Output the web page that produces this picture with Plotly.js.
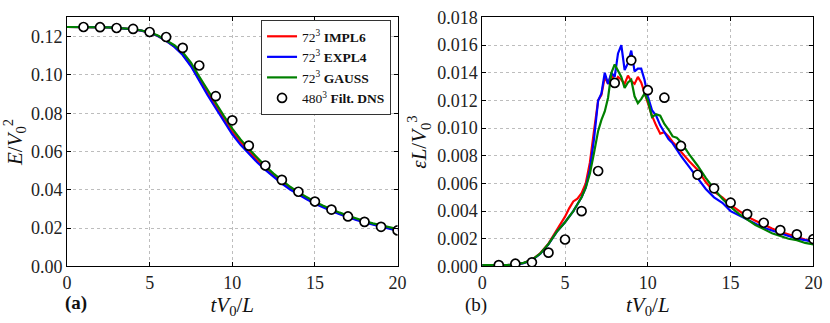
<!DOCTYPE html>
<html>
<head>
<meta charset="utf-8">
<script src="https://cdn.plot.ly/plotly-3.0.1.min.js"></script>
<style>
  html, body { margin: 0; padding: 0; background: #fff; }
  #grafico { width: 830px; height: 323px; }
</style>
</head>
<body>
<div id="grafico"></div>
<script>
// (a) energia cinetica
var tA = [0, 0.5, 1, 1.5, 2, 2.5, 3, 3.5, 4, 4.5, 5, 5.5, 6, 6.5, 7, 7.5, 8, 8.5, 9, 9.5,
          10, 10.5, 11, 11.5, 12, 12.5, 13, 13.5, 14, 14.5, 15, 15.5, 16, 16.5, 17, 17.5, 18, 18.5, 19, 19.5, 20];

var energiaImpl6 = [0.1250, 0.1250, 0.1250, 0.1249, 0.1249, 0.1248, 0.1246, 0.1243, 0.1238, 0.1231,
                    0.1220, 0.1203, 0.1178, 0.1148, 0.1108, 0.1050, 0.0975, 0.0905, 0.0838, 0.0768,
                    0.0703, 0.0648, 0.0600, 0.0555, 0.0513, 0.0475, 0.0440, 0.0408, 0.0380, 0.0355,
                    0.0332, 0.0311, 0.0293, 0.0276, 0.0260, 0.0246, 0.0233, 0.0221, 0.0210, 0.0200, 0.0190];

var energiaExpl4 = [0.1250, 0.1250, 0.1250, 0.1249, 0.1249, 0.1248, 0.1246, 0.1243, 0.1238, 0.1231,
                    0.1220, 0.1203, 0.1178, 0.1146, 0.1104, 0.1045, 0.0968, 0.0895, 0.0826, 0.0755,
                    0.0690, 0.0635, 0.0588, 0.0544, 0.0504, 0.0467, 0.0433, 0.0402, 0.0375, 0.0351,
                    0.0328, 0.0308, 0.0290, 0.0273, 0.0257, 0.0243, 0.0230, 0.0218, 0.0207, 0.0197, 0.0187];

var energiaGauss = [0.1250, 0.1250, 0.1250, 0.1249, 0.1249, 0.1248, 0.1246, 0.1243, 0.1239, 0.1232,
                    0.1222, 0.1206, 0.1182, 0.1155, 0.1118, 0.1064, 0.0992, 0.0922, 0.0855, 0.0785,
                    0.0720, 0.0663, 0.0614, 0.0567, 0.0524, 0.0485, 0.0449, 0.0416, 0.0387, 0.0361,
                    0.0338, 0.0317, 0.0298, 0.0281, 0.0265, 0.0250, 0.0237, 0.0225, 0.0214, 0.0204, 0.0195];

var tDns = [1, 2, 3, 4, 5, 6, 7, 8, 9, 10, 11, 12, 13, 14, 15, 16, 17, 18, 19, 20];
var energiaDns = [0.1250, 0.1249, 0.1245, 0.1240, 0.1224, 0.1198, 0.1141, 0.1049, 0.0889, 0.0763,
                  0.0631, 0.0527, 0.0452, 0.0390, 0.0339, 0.0297, 0.0261, 0.0233, 0.0207, 0.0188];

// (b) dissipacao
var tB = [0, 0.5, 1, 1.5, 2, 2.5, 3, 3.5, 4, 4.5, 5,
          5.25, 5.5, 5.75, 6, 6.25, 6.5, 6.75, 7,
          7.2, 7.4, 7.6, 7.8, 8, 8.2, 8.4, 8.6, 8.8, 9, 9.2, 9.4, 9.6, 9.8,
          10, 10.25, 10.5, 10.75, 11, 11.25, 11.5, 11.75, 12,
          12.5, 13, 13.5, 14, 14.5, 15, 15.5, 16, 16.5, 17, 17.5, 18, 18.5, 19, 19.5, 20];

var dissImpl6 = [0.00010, 0.00010, 0.00008, 0.00010, 0.00015, 0.00025, 0.00048, 0.00095, 0.00165, 0.00260, 0.00360,
                 0.00420, 0.00470, 0.00490, 0.00530, 0.00600, 0.00750, 0.00980, 0.01200,
                 0.01240, 0.01370, 0.01320, 0.01390, 0.01330, 0.01370, 0.01350, 0.01320, 0.01380, 0.01340, 0.01320, 0.01370, 0.01330, 0.01260,
                 0.01180, 0.01090, 0.01020, 0.00960, 0.00970, 0.00940, 0.00900, 0.00870, 0.00830,
                 0.00760, 0.00700, 0.00610, 0.00540, 0.00500, 0.00445, 0.00400, 0.00360, 0.00330, 0.00300, 0.00275, 0.00250, 0.00230, 0.00212, 0.00195, 0.00180];

var dissExpl4 = [0.00010, 0.00010, 0.00008, 0.00010, 0.00014, 0.00024, 0.00046, 0.00090, 0.00160, 0.00250, 0.00320,
                 0.00360, 0.00400, 0.00450, 0.00500, 0.00570, 0.00700, 0.00920, 0.01200,
                 0.01250, 0.01400, 0.01320, 0.01400, 0.01370, 0.01540, 0.01600, 0.01420, 0.01470, 0.01560, 0.01410, 0.01430, 0.01430, 0.01350,
                 0.01230, 0.01130, 0.01090, 0.01020, 0.00970, 0.00920, 0.00890, 0.00840, 0.00800,
                 0.00720, 0.00640, 0.00560, 0.00500, 0.00460, 0.00400, 0.00370, 0.00340, 0.00310, 0.00280, 0.00260, 0.00240, 0.00220, 0.00200, 0.00190, 0.00180];

var dissGauss = [0.00010, 0.00010, 0.00008, 0.00010, 0.00015, 0.00026, 0.00048, 0.00092, 0.00162, 0.00250, 0.00320,
                 0.00360, 0.00400, 0.00450, 0.00500, 0.00570, 0.00670, 0.00820, 0.00980,
                 0.01060, 0.01120, 0.01220, 0.01400, 0.01460, 0.01410, 0.01370, 0.01290, 0.01330, 0.01350, 0.01230, 0.01180, 0.01210, 0.01250,
                 0.01200, 0.01080, 0.01100, 0.01090, 0.01030, 0.00990, 0.00940, 0.00930, 0.00900,
                 0.00810, 0.00730, 0.00640, 0.00560, 0.00490, 0.00430, 0.00380, 0.00340, 0.00300, 0.00270, 0.00240, 0.00220, 0.00200, 0.00190, 0.00170, 0.00160];

var dissDns = [0.00010, 0.00020, 0.00030, 0.00100, 0.00195, 0.00400, 0.00690, 0.01327, 0.01490, 0.01274,
               0.01220, 0.00871, 0.00663, 0.00565, 0.00461, 0.00379, 0.00316, 0.00263, 0.00232, 0.00198];

var nomes = ['72<sup>3</sup> <b>IMPL6</b>', '72<sup>3</sup> <b>EXPL4</b>', '72<sup>3</sup> <b>GAUSS</b>', '480<sup>3</sup> <b>Filt. DNS</b>'];
var cores = ['#ff0000', '#0000ff', '#008000'];

var fonte = 'Liberation Serif';

function linha(x, y, i, eixoX, eixoY, legenda) {
    return {
        x: x, y: y, type: 'scatter', mode: 'lines',
        name: nomes[i], xaxis: eixoX, yaxis: eixoY, showlegend: legenda,
        line: {color: cores[i], width: 2.2}
    };
}

function pontos(x, y, eixoX, eixoY, legenda) {
    return {
        x: x, y: y, type: 'scatter', mode: 'markers',
        name: nomes[3], xaxis: eixoX, yaxis: eixoY, showlegend: legenda,
        marker: {symbol: 'circle', size: 9, color: '#ffffff', line: {color: '#000000', width: 1.7}}
    };
}

var data = [
    linha(tA, energiaImpl6, 0, 'x', 'y', true),
    linha(tA, energiaExpl4, 1, 'x', 'y', true),
    linha(tA, energiaGauss, 2, 'x', 'y', true),
    pontos(tDns, energiaDns, 'x', 'y', true),
    linha(tB, dissImpl6, 0, 'x2', 'y2', false),
    linha(tB, dissExpl4, 1, 'x2', 'y2', false),
    linha(tB, dissGauss, 2, 'x2', 'y2', false),
    pontos(tDns, dissDns, 'x2', 'y2', false)
];

function eixo(extra) {
    var e = {
        showline: true, linecolor: '#000', linewidth: 1, mirror: 'ticks',
        ticks: 'inside', ticklen: 4, tickcolor: '#000',
        showgrid: true, gridcolor: '#bdbdbd', griddash: 'dot', gridwidth: 1,
        zeroline: false, fixedrange: true,
        tickfont: {family: fonte, size: 18, color: '#222'}
    };
    for (var k in extra) e[k] = extra[k];
    return e;
}

var tituloX = {text: '<i>tV</i><sub>0</sub>/<i>L</i>', font: {family: fonte, size: 21, color: '#111'}, standoff: 2};

var layout = {
    width: 830, height: 323,
    margin: {l: 0, r: 0, t: 0, b: 0},
    paper_bgcolor: '#fff', plot_bgcolor: '#fff',
    font: {family: fonte},
    showlegend: true,
    xaxis: eixo({domain: [0.0807, 0.479], range: [0, 20], dtick: 5, anchor: 'y', title: tituloX}),
    yaxis: eixo({domain: [0.175, 0.946], range: [0, 0.13], dtick: 0.02, tickformat: '.2f', anchor: 'x',
        title: {text: '<i>E</i>/<i>V</i><sub>0</sub><sup>2</sup>', font: {family: fonte, size: 21, color: '#111'}, standoff: 4}}),
    xaxis2: eixo({domain: [0.581, 0.980], range: [0, 20], dtick: 5, anchor: 'y2', title: tituloX}),
    yaxis2: eixo({domain: [0.175, 0.946], range: [0, 0.018], dtick: 0.002, tickformat: '.3f', anchor: 'x2',
        title: {text: '<i>εL</i>/<i>V</i><sub>0</sub><sup>3</sup>', font: {family: fonte, size: 21, color: '#111'}, standoff: 4}}),
    legend: {
        x: 0.3145, y: 0.938, xanchor: 'left', yanchor: 'top',
        bgcolor: '#fff', bordercolor: '#333', borderwidth: 1,
        font: {family: fonte, size: 13.5, color: '#111'},
        tracegroupgap: 0, itemwidth: 30
    },
    annotations: [
        {text: '<b>(a)</b>', xref: 'paper', yref: 'paper', x: 0.076, y: 0.062, yanchor: 'middle', showarrow: false,
         font: {family: fonte, size: 19, color: '#111'}},
        {text: '(b)', xref: 'paper', yref: 'paper', x: 0.574, y: 0.056, yanchor: 'middle', showarrow: false,
         font: {family: fonte, size: 19, color: '#111'}}
    ]
};

Plotly.newPlot('grafico', data, layout, {displayModeBar: false, staticPlot: true});
</script>
</body>
</html>
